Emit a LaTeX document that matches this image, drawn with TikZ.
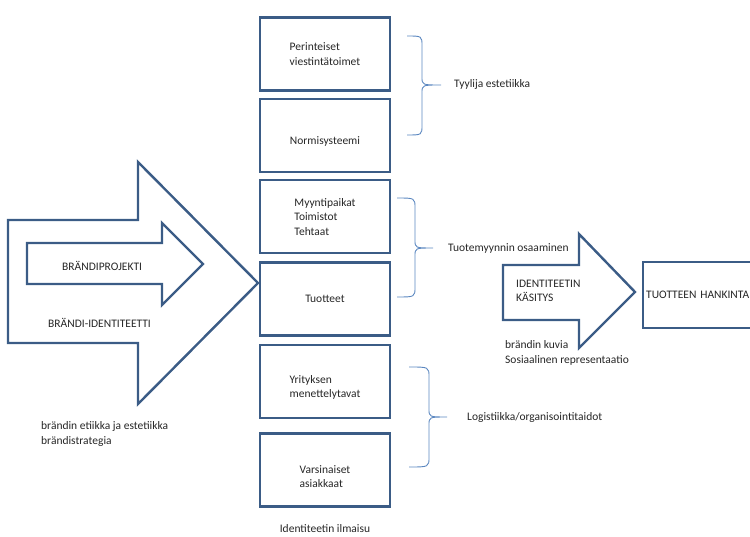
\documentclass[tikz,border=0pt]{standalone}
\usepackage{fontspec}
\setmainfont{Carlito}
\usetikzlibrary{positioning}

\definecolor{boxblue}{HTML}{3B5C86}
\definecolor{braceblue}{HTML}{5B87C0}
\definecolor{textgray}{HTML}{262626}

\begin{document}
\begin{tikzpicture}[
    x=1pt, y=-1pt,
    node distance=6pt,
    every node/.style={text=textgray, font=\fontsize{11.5}{14.5}\selectfont},
    block/.style={draw=boxblue, line width=2.4pt, rectangle, minimum width=130pt, minimum height=73pt, align=left},
    bigarrow/.style={draw=boxblue, line width=2.4pt, line join=miter},
    bracket/.style={draw=braceblue, line width=0.9pt},
    caption/.style={align=left, anchor=west, inner sep=0pt}
]
\useasboundingbox (0,0) rectangle (750,537);
\clip (0,0) rectangle (750,537);

% Block arrows
\draw[bigarrow] (8,220) -- (138,220) -- (138,162) -- (258,283) -- (138,404) -- (138,343) -- (8,343) -- cycle;
\draw[bigarrow] (27,243) -- (162,243) -- (162,223) -- (203,264) -- (162,305) -- (162,284) -- (27,284) -- cycle;
\draw[bigarrow] (503,265) -- (579,265) -- (579,234) -- (635,292) -- (579,348) -- (579,320) -- (503,320) -- cycle;

\node[caption] (projekti) at (62,266) {BRÄNDIPROJEKTI};
\node[caption] (identiteetti) at (48,323) {BRÄNDI-IDENTITEETTI};
\node[caption] (etiikka) at (41,434) {brändin etiikka ja estetiikka\\brändistrategia};

% Column of boxes
\node[block] (perinteiset) at (325,54) {Perinteiset\\viestintätoimet};
\node[block, below=of perinteiset, text height=20pt] (normi) {Normisysteemi};
\node[block, below=of normi] (myyntipaikat) {Myyntipaikat\\Toimistot\\Tehtaat};
\node[block, below=7pt of myyntipaikat] (tuotteet) {Tuotteet};
\node[block, below=7pt of tuotteet, text height=34pt] (menettely) {Yrityksen\\menettelytavat};
\node[block, below=13pt of menettely, text height=36pt] (asiakkaat) {Varsinaiset\\asiakkaat};
\node[caption, anchor=center] (ilmaisu) at (325,529) {Identiteetin ilmaisu};

% Brackets
\draw[bracket] (407,36) .. controls (422,36) .. (422,46) -- (422,77) .. controls (422,85) .. (441,85)
    .. controls (422,85) .. (422,93) -- (422,125) .. controls (422,135) .. (407,135);
\draw[bracket] (397,198) .. controls (415,198) .. (415,208) -- (415,240) .. controls (415,248) .. (433,248)
    .. controls (415,248) .. (415,256) -- (415,287) .. controls (415,297) .. (397,297);
\draw[bracket] (409,367) .. controls (429,367) .. (429,377) -- (429,409) .. controls (429,417) .. (447,417)
    .. controls (429,417) .. (429,425) -- (429,457) .. controls (429,467) .. (409,467);

\node[caption] (tyyli) at (454,84) {Tyylija estetiikka};
\node[caption] (osaaminen) at (448,248) {Tuotemyynnin osaaminen};
\node[caption] (logistiikka) at (467,417) {Logistiikka/organisointitaidot};

% Right part
\node[caption] (kasitys) at (516,291) {IDENTITEETIN\\KÄSITYS};
\node[caption] (kuvia) at (505,353) {brändin kuvia\\Sosiaalinen representaatio};
\node[block, anchor=west, minimum width=0pt, minimum height=66pt, text width=130pt, inner xsep=3pt] (hankinta) at (642,295) {TUOTTEEN HANKINTA};

\end{tikzpicture}
\end{document}
